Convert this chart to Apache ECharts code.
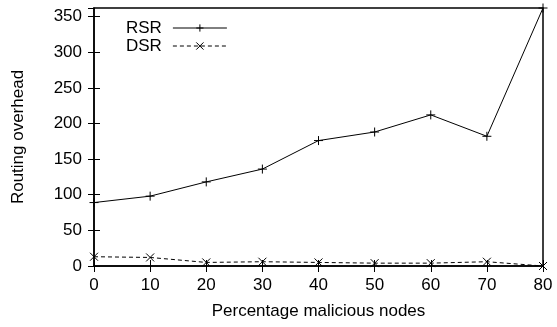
<!DOCTYPE html>
<html><head><meta charset="utf-8">
<script src="https://cdn.jsdelivr.net/npm/echarts@6/dist/echarts.min.js"></script>
<style>html,body{margin:0;padding:0;background:#fff}#c{width:557px;height:327px}</style>
</head><body><div id="c"></div>
<script>
const categories = [0, 10, 20, 30, 40, 50, 60, 70, 80];
const rsr = [89, 98, 118, 136, 176, 188, 212, 182, 362];
const dsr = [13, 12, 5, 6, 5, 4, 4, 6, 0];
const yTicks = [0, 50, 100, 150, 200, 250, 300, 350];
const font = 'Liberation Sans, Arial, sans-serif';
const fs = 17;
const plus = 'path://M5,0L5,10M0,5L10,5';
const cross = 'path://M0,0L10,10M10,0L0,10';
const chart = echarts.init(document.getElementById('c'));
const tickStyle = {show:true, inside:true, length:6, lineStyle:{color:'#000', width:1}};
chart.setOption({
  animation:false,
  grid:{left:94, right:14, top:8, bottom:61, show:true, borderColor:'#000', borderWidth:1.5},
  legend:{left:121, top:14, orient:'vertical', align:'right', itemWidth:54, itemHeight:9, itemGap:0,
    textStyle:{fontFamily:font, fontSize:fs, color:'#000', lineHeight:18, padding:[0,6,0,0]},
    itemStyle:{borderWidth:1},
    lineStyle:{width:1},
    data:['RSR','DSR']},
  xAxis:[{type:'value', min:0, max:80, interval:10, position:'bottom',
    name:'Percentage malicious nodes', nameLocation:'middle', nameGap:37,
    nameTextStyle:{fontFamily:font, fontSize:fs, color:'#000'},
    axisLine:{show:true, lineStyle:{color:'#000', width:1.5}}, axisTick:tickStyle,
    axisLabel:{fontFamily:font, fontSize:fs, color:'#000', margin:11, formatter: v => categories.includes(v) ? String(v) : ''},
    splitLine:{show:false}},
   {type:'value', min:0, max:80, interval:10, position:'top',
    axisLine:{show:false}, axisTick:tickStyle, axisLabel:{show:false}, splitLine:{show:false}}],
  yAxis:[{type:'value', min:0, max:362, interval:50, position:'left',
    name:'Routing overhead', nameLocation:'middle', nameGap:67, nameRotate:90,
    nameTextStyle:{fontFamily:font, fontSize:fs, color:'#000'},
    axisLine:{show:true, lineStyle:{color:'#000', width:1.5}}, axisTick:tickStyle,
    axisLabel:{fontFamily:font, fontSize:fs, color:'#000', margin:12, showMaxLabel:false,
      formatter: v => yTicks.includes(v) ? String(v) : ''},
    splitLine:{show:false}},
   {type:'value', min:0, max:362, interval:50, position:'right',
    axisLine:{show:false}, axisTick:tickStyle, axisLabel:{show:false}, splitLine:{show:false}}],
  series:[
    {name:'RSR', type:'line', data:categories.map((c,i)=>[c, rsr[i]]),
     symbol:plus, symbolSize:9, showAllSymbol:true,
     lineStyle:{color:'#000', width:1},
     itemStyle:{color:'#000', borderColor:'#000', borderWidth:1}},
    {name:'DSR', type:'line', data:categories.map((c,i)=>[c, dsr[i]]),
     symbol:cross, symbolSize:8, showAllSymbol:true,
     lineStyle:{color:'#000', width:1, type:[4,3]},
     itemStyle:{color:'#000', borderColor:'#000', borderWidth:1}}
  ]
});
</script></body></html>
